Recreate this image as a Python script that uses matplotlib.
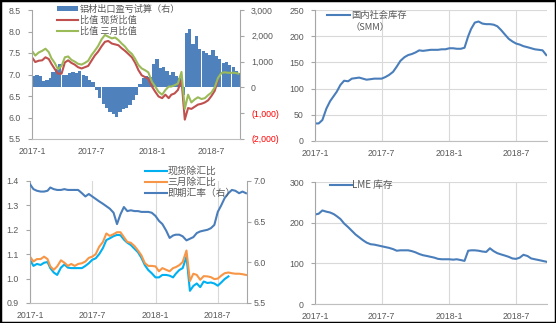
import numpy as np
import pandas as pd
import matplotlib
matplotlib.use("Agg")
import matplotlib.pyplot as plt
import matplotlib.dates as mdates
from matplotlib.patches import Rectangle, Patch
from matplotlib.lines import Line2D

plt.rcParams['font.family'] = ['Liberation Sans', 'Noto Sans CJK SC', 'DejaVu Sans']

# ---------------- data ----------------
# observation dates: 1st, 11th, 21st of each month, 2017-01-01 .. 2018-09-21
dekad_dates = pd.to_datetime([f"{y}-{m:02d}-{d:02d}" for y in (2017, 2018)
                              for m in range(1, 13) for d in (1, 11, 21)])
dekad_dates = dekad_dates[dekad_dates <= pd.Timestamp("2018-09-21")]

tick_dates = ["2017-01-01", "2017-07-01", "2018-01-01", "2018-07-01"]
tick_labels = ["2017-1", "2017-7", "2018-1", "2018-7"]

# top-left: export profit/loss (right axis) and SHFE/LME ratios (left axis)
export_pl = [450, 470, 450, 250, 300, 350, 600, 700, 900, 500,
             500, 550, 600, 550, 650, 500, 450, 300, 200, -100,
             -400, -650, -800, -950, -1050, -1150, -950, -850, -800, -700,
             -500, -300, 150, 350, 450, 400, 900, 1100, 750, 800,
             650, 500, 600, 450, 350, -300, 2100, 2250, 1700, 2000,
             1500, 1400, 1350, 1250, 1450, 1200, 1100, 950, 1000, 850,
             800, 650, 550]
ratio_spot = [7.40, 7.29, 7.32, 7.33, 7.40, 7.36, 7.25, 7.13, 7.02, 7.02,
              7.28, 7.33, 7.27, 7.23, 7.17, 7.14, 7.17, 7.20, 7.32, 7.44,
              7.53, 7.66, 7.76, 7.78, 7.72, 7.70, 7.68, 7.61, 7.55, 7.48,
              7.40, 7.27, 7.10, 6.98, 6.94, 6.90, 6.72, 6.60, 6.49, 6.45,
              6.53, 6.45, 6.53, 6.56, 6.64, 6.87, 5.95, 6.22, 6.20, 6.25,
              6.30, 6.32, 6.35, 6.40, 6.50, 6.62, 6.87]
ratio_3m = [7.55, 7.44, 7.51, 7.55, 7.60, 7.52, 7.38, 7.27, 7.12, 7.20,
            7.40, 7.42, 7.34, 7.30, 7.25, 7.23, 7.27, 7.32, 7.45, 7.55,
            7.66, 7.82, 7.92, 7.88, 7.84, 7.86, 7.80, 7.72, 7.65, 7.55,
            7.48, 7.36, 7.22, 7.14, 7.10, 7.05, 6.83, 6.72, 6.60, 6.53,
            6.64, 6.72, 6.72, 6.75, 6.79, 7.06, 6.20, 6.53, 6.35, 6.42,
            6.47, 6.43, 6.45, 6.52, 6.58, 6.70, 6.92, 7.04, 7.05, 7.04,
            7.04, 7.04, 7.02]

# top-right: domestic social inventory (SMM)
smm_stock = [33.5, 33.5, 40, 62, 76, 86, 94, 107, 115, 114,
             119, 120, 121, 119, 117, 118, 119, 119, 119, 122,
             126, 132, 142, 153, 160, 164, 166, 169, 173, 172,
             173, 174, 174, 174, 175, 175, 177, 177, 176, 176,
             178, 200, 214, 226, 228, 224, 223, 223, 222, 219,
             212, 203, 195, 190, 186, 184, 181, 179, 177, 175,
             174, 173, 164]

# bottom-left: ratios ex-FX (left) and USDCNY (right)
spot_fx = [1.077, 1.052, 1.060, 1.056, 1.065, 1.068, 1.043, 1.025, 1.015, 1.045,
           1.058, 1.045, 1.043, 1.043, 1.043, 1.043, 1.052, 1.063, 1.077, 1.083,
           1.100, 1.125, 1.158, 1.165, 1.174, 1.179, 1.178, 1.160, 1.147, 1.138,
           1.122, 1.108, 1.085, 1.055, 1.035, 1.022, 1.005, 1.005, 1.015, 1.015,
           1.012, 1.005, 1.020, 1.035, 1.043, 1.090, 0.950, 0.970, 0.980, 0.965,
           0.988, 0.982, 0.984, 0.980, 0.971, 0.984, 0.998, 1.009]
m3_fx = [1.090, 1.070, 1.080, 1.080, 1.090, 1.080, 1.050, 1.036, 1.050, 1.075,
         1.065, 1.052, 1.060, 1.052, 1.060, 1.063, 1.070, 1.085, 1.090, 1.100,
         1.130, 1.150, 1.185, 1.175, 1.182, 1.190, 1.190, 1.170, 1.150, 1.147,
         1.133, 1.115, 1.095, 1.063, 1.052, 1.052, 1.050, 1.030, 1.043, 1.036,
         1.030, 1.043, 1.047, 1.055, 1.068, 1.115, 0.990, 1.020, 1.015, 0.995,
         1.010, 1.009, 1.006, 0.998, 1.000, 1.012, 1.022, 1.025, 1.022, 1.020,
         1.020, 1.018, 1.015]
usdcny = [6.96, 6.90, 6.88, 6.87, 6.87, 6.88, 6.92, 6.90, 6.89, 6.89,
          6.90, 6.89, 6.89, 6.89, 6.89, 6.85, 6.81, 6.84, 6.81, 6.78,
          6.75, 6.72, 6.69, 6.66, 6.61, 6.47, 6.59, 6.68, 6.63, 6.64,
          6.63, 6.63, 6.62, 6.62, 6.62, 6.61, 6.57, 6.51, 6.47, 6.39,
          6.30, 6.33, 6.34, 6.34, 6.32, 6.27, 6.29, 6.31, 6.36, 6.38,
          6.39, 6.40, 6.42, 6.46, 6.62, 6.70, 6.79, 6.85, 6.89, 6.88,
          6.85, 6.87, 6.85]

# bottom-right: LME stocks
lme_stock = [220, 222, 230, 227, 225, 221, 216, 209, 198, 189,
             180, 171, 164, 157, 151, 147, 146, 144, 142, 140,
             138, 135, 131, 132, 132, 132, 130, 127, 123, 120,
             118, 116, 114, 111, 110, 110, 110, 109, 110, 108,
             106, 131, 132, 132, 131, 129, 128, 137, 130, 125,
             122, 119, 116, 112, 111, 114, 121, 118, 112, 110,
             108, 106, 104]

# ---------------- drawing ----------------
W, H = 556, 323
fig = plt.figure(figsize=(W / 100, H / 100), dpi=100)

TICK = '#595959'
SPINE = '#A6A6A6'
BOTTOM = '#BFBFBF'
GRID = '#D9D9D9'
LEGTXT = '#595959'
CJK = ['Noto Sans CJK SC', 'Liberation Sans']
FS = 6.3

xd = mdates.date2num(dekad_dates)


def px_axes(l, t, r, b):
    return fig.add_axes([l / W, 1 - b / H, (r - l) / W, (b - t) / H])


def style_x(ax, end, pad):
    ax.set_xlim(mdates.date2num(pd.Timestamp('2017-01-01')),
                mdates.date2num(pd.Timestamp(end)))
    ax.set_xticks(mdates.date2num(pd.to_datetime(tick_dates)))
    ax.set_xticklabels(tick_labels)
    ax.tick_params(axis='x', length=0, pad=pad, labelsize=FS, labelcolor=TICK)


def style_y(ax, pad):
    ax.tick_params(axis='y', direction='out', length=3, width=0.8, color=SPINE,
                   pad=pad, labelsize=FS, labelcolor=TICK)


def legend_at(ax, handles, labels, left, top, fs, hl, htp, ls):
    leg = ax.legend(handles, labels, loc='upper left',
                    bbox_to_anchor=(left / W, 1 - top / H),
                    bbox_transform=fig.transFigure, frameon=False,
                    prop={'family': CJK, 'size': fs}, handlelength=hl,
                    handletextpad=htp, labelspacing=ls, borderpad=0,
                    borderaxespad=0, handleheight=0.5)
    for t in leg.get_texts():
        t.set_color(LEGTXT)
    return leg


# ---- top-left ----
ax1 = px_axes(32, 10, 240, 139)
axb = ax1.twinx()
ax1.set_zorder(axb.get_zorder() + 1)
ax1.patch.set_visible(False)
axb.patch.set_visible(False)

axb.bar(xd, export_pl, width=10, align='edge', color='#4F81BD', linewidth=0)
ax1.plot(xd[:len(ratio_spot)], ratio_spot, color='#C0504D', lw=1.5)
ax1.plot(xd, ratio_3m, color='#9BBB59', lw=1.5)

style_x(ax1, '2018-09-26', 6)
ax1.set_ylim(5.5, 8.5)
ax1.set_yticks(np.arange(5.5, 8.51, 0.5))
ax1.set_yticklabels([f"{v:.1f}" for v in np.arange(5.5, 8.51, 0.5)])
style_y(ax1, 5)
axb.set_ylim(-2000, 3000)
rt = [-2000, -1000, 0, 1000, 2000, 3000]
axb.set_yticks(rt)
axb.set_yticklabels([f"({abs(v):,})" if v < 0 else f"{v:,}" for v in rt])
style_y(axb, 5)
for v, lbl in zip(rt, axb.get_yticklabels()):
    if v < 0:
        lbl.set_color('#FF0000')
axb.grid(axis='x', color=GRID, lw=0.8)
axb.set_axisbelow(True)
for s in ('top', 'right'):
    ax1.spines[s].set_visible(False)
ax1.spines['left'].set_color(SPINE)
ax1.spines['bottom'].set_color(BOTTOM)
for s in ('top', 'left', 'bottom'):
    axb.spines[s].set_visible(False)
axb.spines['right'].set_color(SPINE)

legend_at(ax1,
          [Patch(facecolor='#4F81BD'),
           Line2D([], [], color='#C0504D', lw=1.5),
           Line2D([], [], color='#9BBB59', lw=1.5)],
          ['铝材出口盈亏试算（右）', '比值 现货比值', '比值 三月比值'],
          57, 5, 6.6, 2.3, 0.2, 0.2)

# ---- top-right ----
ax3 = px_axes(315, 10, 547, 141)
ax3.plot(xd, smm_stock, color='#4A7EBB', lw=1.5)
style_x(ax3, '2018-09-23', 6)
ax3.set_ylim(0, 250)
ax3.set_yticks(np.arange(0, 251, 50))
style_y(ax3, 5)
ax3.grid(True, color=GRID, lw=0.8)
ax3.set_axisbelow(True)
for s in ('top', 'right'):
    ax3.spines[s].set_visible(False)
ax3.spines['left'].set_color(SPINE)
ax3.spines['bottom'].set_color(BOTTOM)
legend_at(ax3, [Line2D([], [], color='#4A7EBB', lw=1.5)], ['国内社会库存'],
          327, 11, 6.7, 2.5, 0.1, 0.1)
fig.text(351 / W, 1 - 28 / H, '（SMM）', family=CJK, fontsize=6.7,
         color=LEGTXT, ha='left', va='center')

# ---- bottom-left ----
ax2 = px_axes(30, 181, 247, 303)
ax2r = ax2.twinx()
ax2.plot(xd[:len(spot_fx)], spot_fx, color='#00B0F0', lw=1.5)
ax2.plot(xd, m3_fx, color='#F79646', lw=1.5)
ax2r.plot(xd, usdcny, color='#4A7EBB', lw=1.5)
style_x(ax2, '2018-09-24', 6)
ax2.set_ylim(0.9, 1.4)
ax2.set_yticks(np.arange(0.9, 1.401, 0.1))
ax2.set_yticklabels([f"{v:.1f}" for v in np.arange(0.9, 1.401, 0.1)])
style_y(ax2, 5)
ax2r.set_ylim(5.5, 7.0)
ax2r.set_yticks([5.5, 6.0, 6.5, 7.0])
ax2r.set_yticklabels(['5.5', '6.0', '6.5', '7.0'])
style_y(ax2r, 2)
ax2.grid(axis='x', color=GRID, lw=0.8)
ax2.set_axisbelow(True)
for s in ('top', 'right'):
    ax2.spines[s].set_visible(False)
ax2.spines['left'].set_color(SPINE)
ax2.spines['bottom'].set_color(BOTTOM)
for s in ('top', 'left', 'bottom'):
    ax2r.spines[s].set_visible(False)
ax2r.spines['right'].set_color(SPINE)
legend_at(ax2r,
          [Line2D([], [], color='#00B0F0', lw=1.5),
           Line2D([], [], color='#F79646', lw=1.5),
           Line2D([], [], color='#4A7EBB', lw=1.5)],
          ['现货除汇比', '三月除汇比', '即期汇率（右）'],
          145, 166, 7.0, 2.3, 0.05, 0.1)

# ---- bottom-right ----
ax4 = px_axes(315, 182, 547, 304)
ax4.plot(xd, lme_stock, color='#4A7EBB', lw=1.5)
style_x(ax4, '2018-09-23', 6)
ax4.set_ylim(0, 300)
ax4.set_yticks([0, 100, 200, 300])
style_y(ax4, 5)
ax4.grid(True, color=GRID, lw=0.8)
ax4.set_axisbelow(True)
for s in ('top', 'right'):
    ax4.spines[s].set_visible(False)
ax4.spines['left'].set_color(SPINE)
ax4.spines['bottom'].set_color(BOTTOM)
legend_at(ax4, [Line2D([], [], color='#4A7EBB', lw=1.5)], ['LME 库存'],
          330, 180, 7.0, 2.3, 0.0, 0.1)

# outer frame
fig.add_artist(Rectangle((0, 0), 1, 1, transform=fig.transFigure, fill=False,
                         ec='black', lw=2.5))

fig.savefig('out.png', dpi=100)
